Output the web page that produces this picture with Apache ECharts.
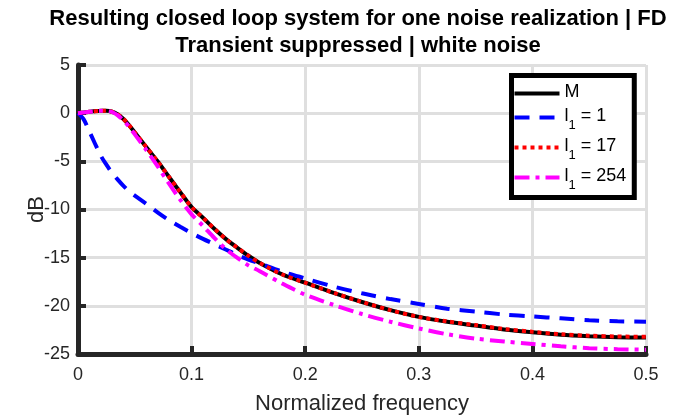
<!DOCTYPE html>
<html><head><meta charset="utf-8">
<script src="https://cdn.jsdelivr.net/npm/echarts@6/dist/echarts.min.js"></script>
<style>html,body{margin:0;padding:0;background:#fff}#c{width:679px;height:417px}</style>
</head><body><div id="c"></div>
<script>
const freq = [0,0.005,0.01,0.02,0.025,0.03,0.035,0.04,0.045,0.05,0.06,0.07,0.08,0.09,0.1,0.11,0.12,0.13,0.14,0.15,0.16,0.18,0.2,0.225,0.25,0.275,0.3,0.325,0.35,0.375,0.4,0.425,0.45,0.475,0.5];
const seriesM    = [0,0.07,0.14,0.24,0.25,0.15,-0.12,-0.6,-1.25,-2.0,-3.5,-5.0,-6.6,-8.2,-9.75,-10.85,-12.0,-13.05,-13.95,-14.8,-15.55,-16.75,-17.6,-18.65,-19.6,-20.45,-21.15,-21.65,-22.05,-22.45,-22.75,-23.0,-23.15,-23.25,-23.3];
const seriesL1   = [0,-0.65,-1.9,-4.4,-5.35,-6.2,-6.9,-7.55,-8.1,-8.55,-9.4,-10.3,-11.1,-11.8,-12.45,-13.05,-13.6,-14.15,-14.7,-15.2,-15.6,-16.45,-17.15,-18.0,-18.7,-19.3,-19.8,-20.3,-20.6,-20.9,-21.1,-21.3,-21.5,-21.6,-21.65];
const seriesL17  = [0,0.07,0.14,0.24,0.25,0.15,-0.12,-0.6,-1.25,-2.0,-3.5,-5.0,-6.6,-8.2,-9.75,-10.85,-12.0,-13.05,-13.95,-14.8,-15.55,-16.75,-17.6,-18.65,-19.6,-20.45,-21.15,-21.62,-22.0,-22.4,-22.7,-22.95,-23.1,-23.18,-23.22];
const seriesL254 = [0,0.07,0.14,0.24,0.24,0.12,-0.22,-0.75,-1.42,-2.2,-3.8,-5.5,-7.3,-9.0,-10.5,-11.7,-12.95,-14.1,-15.0,-15.8,-16.4,-17.7,-18.85,-19.9,-20.85,-21.65,-22.35,-22.95,-23.4,-23.7,-23.95,-24.2,-24.4,-24.5,-24.55];
const names = ['M','l1 = 1','l1 = 17','l1 = 254'];
const titleText = 'Resulting closed loop system for one noise realization | FD\nTransient suppressed | white noise';
const xName = 'Normalized frequency';
const yName = 'dB';

const FONT = 'Liberation Sans';
const AX = '#262626';
const pair = ys => freq.map((f, i) => [f, ys[i]]);
const chart = echarts.init(document.getElementById('c'), null, {renderer: 'canvas'});
function mk(name, ys, color, type, z) {
  return {
    name, type: 'line', data: pair(ys), showSymbol: false, symbol: 'circle',
    smooth: 0.3, z,
    lineStyle: {color, width: 4, type, cap: 'butt'},
    itemStyle: {color}
  };
}
chart.setOption({
  animation: false,
  backgroundColor: '#fff',
  textStyle: {fontFamily: FONT},
  title: {
    text: titleText, left: 353, top: 0, textAlign: 'center', padding: 5,
    textStyle: {fontFamily: FONT, fontSize: 22, fontWeight: 'bold', color: '#000', lineHeight: 27}
  },
  grid: {left: 78, right: 33, top: 65, bottom: 63, containLabel: false, outerBoundsMode: 'none'},
  xAxis: {
    type: 'value', min: 0, max: 0.5, interval: 0.1,
    name: xName, nameLocation: 'middle', nameGap: 39, nameMoveOverlap: false,
    nameTextStyle: {fontFamily: FONT, fontSize: 22, color: AX},
    axisLine: {show: true, onZero: false, lineStyle: {color: AX, width: 5}},
    axisTick: {show: true, inside: true, length: 8, lineStyle: {color: AX, width: 4}},
    axisLabel: {color: AX, fontSize: 18, fontFamily: FONT, margin: 12, formatter: v => String(+v.toFixed(1))},
    splitLine: {show: true, lineStyle: {color: '#dfdfdf', width: 3}}
  },
  yAxis: {
    type: 'value', min: -25, max: 5, interval: 5,
    name: yName, nameLocation: 'middle', nameGap: 30, nameRotate: 90, nameMoveOverlap: false,
    nameTextStyle: {fontFamily: FONT, fontSize: 22, color: AX},
    axisLine: {show: true, onZero: false, lineStyle: {color: AX, width: 5}},
    axisTick: {show: true, inside: true, length: 8, lineStyle: {color: AX, width: 4}},
    axisLabel: {color: AX, fontSize: 18, fontFamily: FONT, margin: 8},
    splitLine: {show: true, lineStyle: {color: '#dfdfdf', width: 3}}
  },
  legend: {
    orient: 'vertical', left: 511.5, top: 75.5,
    itemWidth: 45, itemHeight: 14, itemGap: 6,
    padding: [8, 8, 6, 1],
    backgroundColor: '#fff', borderColor: '#000', borderWidth: 5, borderRadius: 0,
    itemStyle: {opacity: 0},
    lineStyle: {width: 4},
    data: names,
    textStyle: {
      fontFamily: FONT, fontSize: 18, color: '#000',
      rich: {
        n: {fontFamily: FONT, fontSize: 18, color: '#000', lineHeight: 20, verticalAlign: 'top'},
        s: {fontFamily: FONT, fontSize: 13, color: '#000', lineHeight: 14, padding: [11, 0, 0, 0], verticalAlign: 'top'}
      }
    },
    formatter: name => name === 'M' ? '{n|M}' : '{n|l}{s|1}{n|' + name.slice(2) + '}'
  },
  series: [
    mk(names[0], seriesM, '#000000', 'solid', 2),
    mk(names[1], seriesL1, '#0000ff', [15, 10], 3),
    mk(names[2], seriesL17, '#ff0000', [4, 4], 4),
    mk(names[3], seriesL254, '#ff00ff', [15, 6, 4, 6], 5)
  ]
});
</script></body></html>
